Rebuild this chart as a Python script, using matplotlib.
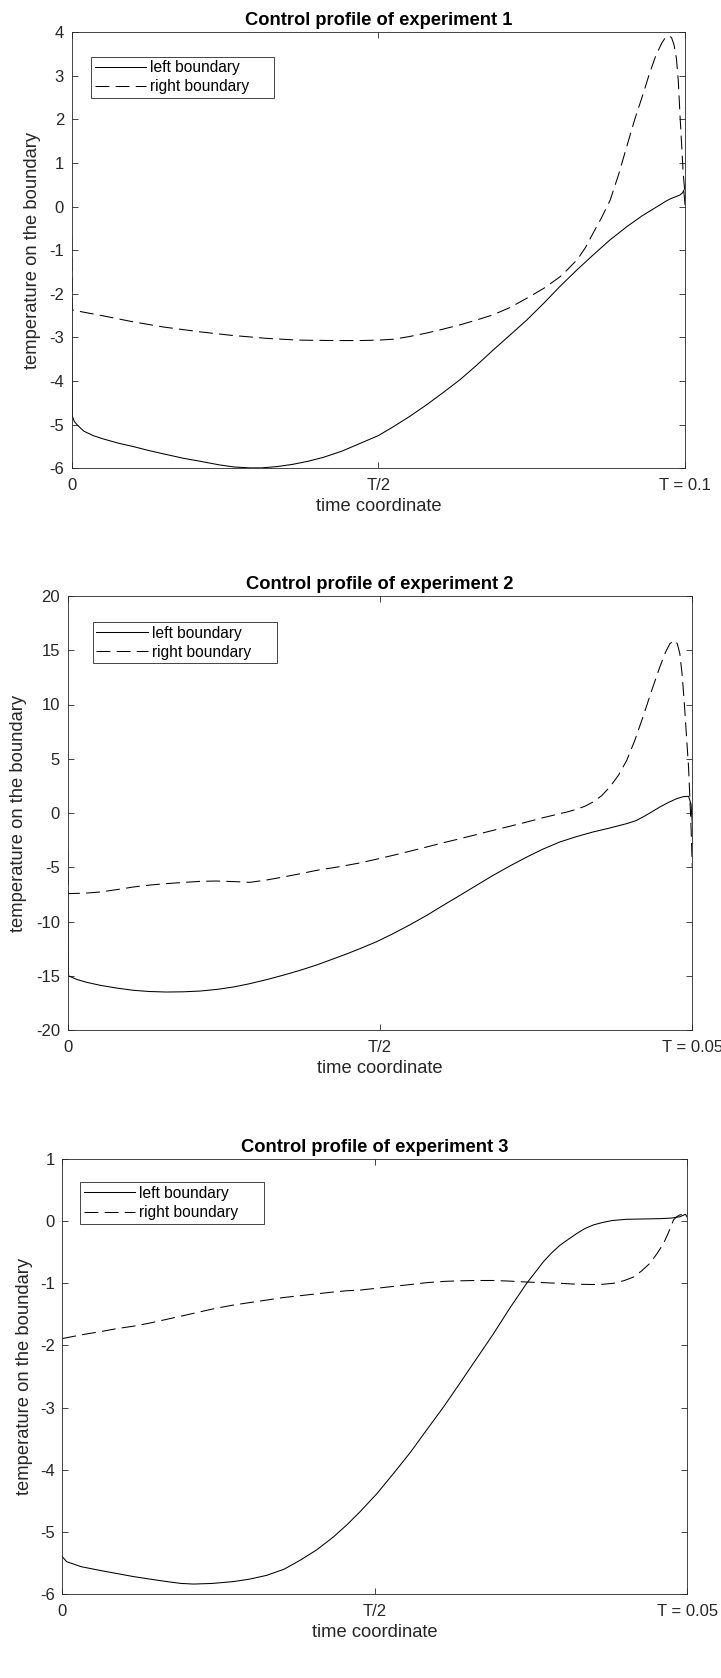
import numpy as np
import matplotlib
matplotlib.use("Agg")
import matplotlib.pyplot as plt

plt.rcParams['font.family'] = ['Liberation Sans', 'DejaVu Sans']
plt.rcParams['lines.scale_dashes'] = False
plt.rcParams['axes.unicode_minus'] = False

# ---------------- data (time given as fraction of T) ----------------
titles = ["Control profile of experiment 1",
          "Control profile of experiment 2",
          "Control profile of experiment 3"]
T_values = [0.1, 0.05, 0.05]
xtick_labels = [["0", "T/2", "T = 0.1"],
                ["0", "T/2", "T = 0.05"],
                ["0", "T/2", "T = 0.05"]]
ylims = [(-6, 4), (-20, 20), (-6, 1)]
ytick_steps = [1, 5, 1]
series_labels = ["left boundary", "right boundary"]

# experiment 1
left1_t = [0, 0.001, 0.004, 0.01, 0.02, 0.035, 0.05, 0.075, 0.1, 0.125, 0.15, 0.182,
           0.21, 0.24, 0.265, 0.29, 0.31, 0.335, 0.36, 0.385, 0.41, 0.44, 0.47, 0.50,
           0.524, 0.55, 0.578, 0.605, 0.633, 0.66, 0.687, 0.715, 0.742, 0.77, 0.796,
           0.823, 0.85, 0.877, 0.905, 0.93, 0.945, 0.959, 0.968, 0.976, 0.985, 0.992,
           0.996, 0.998, 1.0]
left1_v = [-2.4, -4.8, -4.92, -5.02, -5.15, -5.25, -5.32, -5.42, -5.50, -5.59, -5.67, -5.77,
           -5.84, -5.92, -5.97, -5.99, -5.99, -5.96, -5.91, -5.84, -5.75, -5.61, -5.43, -5.25,
           -5.05, -4.82, -4.55, -4.27, -3.97, -3.64, -3.29, -2.94, -2.60, -2.21, -1.83,
           -1.46, -1.11, -0.77, -0.46, -0.21, -0.08, 0.04, 0.12, 0.18, 0.23, 0.27,
           0.32, 0.38, 0.05]
right1_t = [0, 0.001, 0.05, 0.1, 0.15, 0.209, 0.26, 0.318, 0.37, 0.427, 0.47, 0.50, 0.524,
            0.55, 0.578, 0.605, 0.633, 0.66, 0.687, 0.715, 0.742, 0.77, 0.796, 0.81,
            0.825, 0.838, 0.85, 0.864, 0.878, 0.892, 0.905, 0.918, 0.932, 0.942, 0.952,
            0.962, 0.968, 0.973, 0.978, 0.982, 0.986, 0.989, 0.992, 0.995, 0.997, 1.0]
right1_v = [-0.7, -2.37, -2.50, -2.64, -2.76, -2.87, -2.95, -3.02, -3.06, -3.07, -3.07, -3.06, -3.04,
            -2.98, -2.90, -2.81, -2.71, -2.60, -2.48, -2.31, -2.10, -1.87, -1.61, -1.42,
            -1.20, -0.93, -0.61, -0.25, 0.15, 0.75, 1.38, 2.00, 2.60, 3.05, 3.45,
            3.75, 3.88, 3.92, 3.88, 3.72, 3.40, 2.90, 2.06, 1.30, 0.77, 0.30]

# experiment 2
left2_t = [0, 0.001, 0.015, 0.03, 0.052, 0.08, 0.105, 0.13, 0.158, 0.185, 0.212, 0.24,
           0.265, 0.29, 0.319, 0.345, 0.372, 0.40, 0.425, 0.447, 0.468, 0.495, 0.521,
           0.548, 0.575, 0.60, 0.628, 0.655, 0.681, 0.708, 0.735, 0.76, 0.788, 0.815,
           0.841, 0.868, 0.895, 0.91, 0.921, 0.935, 0.948, 0.962, 0.975, 0.985, 0.994,
           0.998, 1.0]
left2_v = [-7.4, -15.0, -15.35, -15.6, -15.88, -16.15, -16.34, -16.45, -16.50, -16.48, -16.41, -16.25,
           -16.04, -15.75, -15.35, -14.95, -14.5, -13.98, -13.45, -12.98, -12.5, -11.85, -11.12,
           -10.3, -9.43, -8.55, -7.59, -6.65, -5.75, -4.88, -4.06, -3.35, -2.67, -2.17,
           -1.75, -1.38, -0.98, -0.70, -0.37, 0.10, 0.55, 0.98, 1.32, 1.50, 1.54,
           0.8, -1.0]
right2_t = [0, 0.001, 0.03, 0.052, 0.08, 0.105, 0.13, 0.158, 0.185, 0.212, 0.238, 0.265,
            0.292, 0.318, 0.345, 0.372, 0.399, 0.435, 0.468, 0.495, 0.521, 0.548, 0.575,
            0.60, 0.628, 0.655, 0.681, 0.708, 0.735, 0.76, 0.788, 0.80, 0.815, 0.828,
            0.841, 0.855, 0.868, 0.882, 0.895, 0.908, 0.921, 0.935, 0.948, 0.957, 0.964,
            0.971, 0.976, 0.980, 0.984, 0.988, 0.991, 0.994, 0.996, 0.998, 1.0]
right2_v = [-3.5, -7.43, -7.38, -7.28, -7.05, -6.82, -6.65, -6.51, -6.40, -6.30, -6.27, -6.32,
            -6.39, -6.18, -5.90, -5.60, -5.28, -4.95, -4.6, -4.25, -3.90, -3.52, -3.13,
            -2.76, -2.37, -1.98, -1.60, -1.22, -0.83, -0.45, -0.06, 0.10, 0.35, 0.62,
            1.01, 1.60, 2.40, 3.50, 4.85, 6.70, 8.85, 11.3, 13.46, 14.8, 15.6,
            15.91, 15.6, 14.7, 12.6, 9.46, 6.8, 4.24, 1.5, -1.29, -5.0]

# experiment 3
left3_t = [0, 0.007, 0.03, 0.060, 0.087, 0.114, 0.14, 0.167, 0.19, 0.210, 0.24, 0.274,
           0.30, 0.327, 0.355, 0.380, 0.407, 0.434, 0.455, 0.476, 0.503, 0.530, 0.557,
           0.583, 0.61, 0.636, 0.663, 0.690, 0.716, 0.743, 0.757, 0.770, 0.783, 0.796,
           0.81, 0.823, 0.836, 0.850, 0.865, 0.880, 0.903, 0.93, 0.956, 0.975, 0.988,
           0.997, 1.0]
left3_v = [-5.40, -5.48, -5.56, -5.62, -5.67, -5.72, -5.76, -5.80, -5.83, -5.84, -5.83, -5.80,
           -5.76, -5.70, -5.60, -5.46, -5.29, -5.08, -4.89, -4.68, -4.39, -4.06, -3.72,
           -3.36, -2.99, -2.61, -2.21, -1.81, -1.40, -1.00, -0.82, -0.65, -0.51, -0.39,
           -0.29, -0.20, -0.12, -0.06, -0.02, 0.01, 0.03, 0.035, 0.04, 0.05, 0.07,
           0.11, 0.06]
right3_t = [0, 0.03, 0.060, 0.087, 0.114, 0.14, 0.167, 0.194, 0.220, 0.247, 0.274, 0.30,
            0.327, 0.353, 0.380, 0.407, 0.434, 0.455, 0.476, 0.503, 0.530, 0.557, 0.583,
            0.61, 0.636, 0.663, 0.690, 0.716, 0.743, 0.77, 0.796, 0.823, 0.850, 0.866,
            0.882, 0.898, 0.914, 0.927, 0.940, 0.951, 0.962, 0.970, 0.978, 0.983, 0.988,
            0.994, 1.0]
right3_v = [-1.89, -1.83, -1.78, -1.73, -1.69, -1.64, -1.58, -1.52, -1.46, -1.40, -1.35, -1.31,
            -1.27, -1.23, -1.20, -1.17, -1.14, -1.12, -1.11, -1.08, -1.05, -1.02, -0.99,
            -0.97, -0.96, -0.955, -0.955, -0.965, -0.98, -0.99, -1.00, -1.015, -1.02, -1.015,
            -1.00, -0.96, -0.90, -0.80, -0.68, -0.53, -0.36, -0.18, 0.02, 0.07, 0.10,
            0.11, 0.11]

left_series = [(left1_t, left1_v), (left2_t, left2_v), (left3_t, left3_v)]
right_series = [(right1_t, right1_v), (right2_t, right2_v), (right3_t, right3_v)]

# ---------------- layout ----------------
W, H = 721, 1678
fig = plt.figure(figsize=(W / 100, H / 100), dpi=100)

axes_px = [(71.7, 32.3, 685.0, 468.3),
           (67.7, 596.0, 692.3, 1030.0),
           (62.3, 1159.0, 687.3, 1594.0)]
legend_px = [(91.0, 56.7, 274.0),
             (92.7, 622.0, 277.0),
             (80.3, 1182.3, 263.7)]
ylabel_x_px = [32.5, 18.5, 25.0]
xlabel_y_px = [506.7, 1068.3, 1632.7]

gray = '#262626'

for i in range(3):
    x0, y0, x1, y1 = axes_px[i]
    ax = fig.add_axes([x0 / W, 1 - y1 / H, (x1 - x0) / W, (y1 - y0) / H])
    T = T_values[i]
    lt, lv = left_series[i]
    rt, rv = right_series[i]
    ax.plot(np.array(lt) * T, lv, color='black', lw=0.75, label=series_labels[0])
    ax.plot(np.array(rt) * T, rv, color='black', lw=0.75, dashes=(10, 4.5),
            label=series_labels[1])
    ax.set_xlim(0, T)
    ax.set_ylim(*ylims[i])
    ax.set_xticks([0, T / 2, T])
    ax.set_xticklabels(xtick_labels[i])
    lo, hi = ylims[i]
    ax.set_yticks(np.arange(lo, hi + 0.001, ytick_steps[i]))
    ax.tick_params(axis='both', direction='in', top=True, right=True, length=4.5,
                   width=0.6, color=gray, labelcolor=gray, labelsize=12)
    ax.tick_params(axis='x', pad=7)
    ax.tick_params(axis='y', pad=5.5)
    for sp in ax.spines.values():
        sp.set_color(gray)
        sp.set_linewidth(0.6)
    ax.set_title(titles[i], fontsize=13.2, fontweight='bold', color='black', pad=5)
    ax.set_xlabel('time coordinate', fontsize=13.2, color=gray, va='center')
    ax.set_ylabel('temperature on the boundary', fontsize=13.2, color=gray, va='center')
    ax.xaxis.set_label_coords(0.5, -(xlabel_y_px[i] - y1) / (y1 - y0))
    ax.yaxis.set_label_coords((ylabel_x_px[i] - x0) / (x1 - x0), 0.5)

    lx0, ly0, lx1 = legend_px[i]
    bx = (lx0 - x0) / (x1 - x0)
    bw = (lx1 - lx0) / (x1 - x0)
    btop = 1 - (ly0 - y0) / (y1 - y0)
    leg = ax.legend(loc='upper left', bbox_to_anchor=(bx, btop - 0.1, bw, 0.1),
                    mode='expand', borderaxespad=0, fontsize=11.2,
                    handlelength=3.3, handletextpad=0.27, borderpad=0.23,
                    labelspacing=0.27, fancybox=False, framealpha=1)
    leg.get_frame().set_edgecolor(gray)
    leg.get_frame().set_linewidth(0.6)
    for txt in leg.get_texts():
        txt.set_color('black')

fig.savefig('out.png', dpi=100)
